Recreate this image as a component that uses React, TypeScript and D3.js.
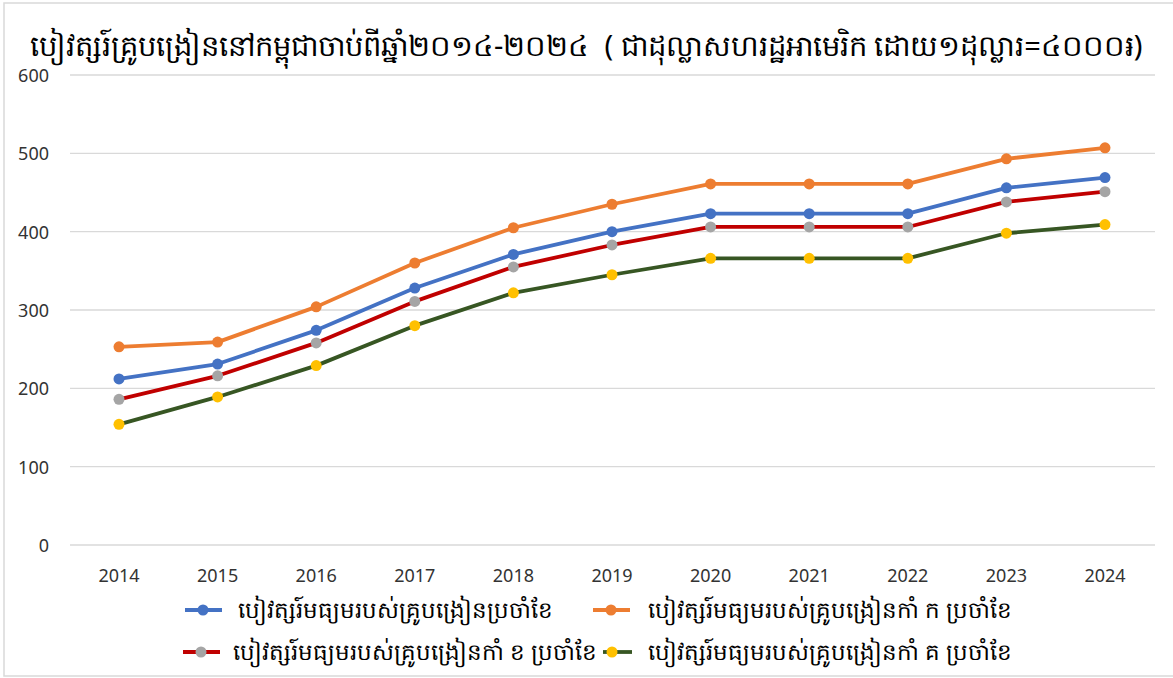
import { useEffect, useRef } from "react";
import * as d3 from "d3";

const title = "បៀវត្សរ៍គ្រូបង្រៀននៅកម្ពុជាចាប់ពីឆ្នាំ២០១៤-២០២៤  ( ជាដុល្លាសហរដ្ឋអាមេរិក ដោយ១ដុល្លារ=៤០០០៛)";
const years = ["2014", "2015", "2016", "2017", "2018", "2019", "2020", "2021", "2022", "2023", "2024"];
const yTicks = [0, 100, 200, 300, 400, 500, 600];

const avgAll = [212, 231, 274, 328, 371, 400, 423, 423, 423, 456, 469];
const avgRankA = [253, 259, 304, 360, 405, 435, 461, 461, 461, 493, 507];
const avgRankB = [186, 216, 258, 311, 355, 383, 406, 406, 406, 438, 451];
const avgRankC = [154, 189, 229, 280, 322, 345, 366, 366, 366, 398, 409];

const seriesNames = [
  "បៀវត្សរ៍មធ្យមរបស់គ្រូបង្រៀនប្រចាំខែ",
  "បៀវត្សរ៍មធ្យមរបស់គ្រូបង្រៀនកាំ ក ប្រចាំខែ",
  "បៀវត្សរ៍មធ្យមរបស់គ្រូបង្រៀនកាំ ខ ប្រចាំខែ",
  "បៀវត្សរ៍មធ្យមរបស់គ្រូបង្រៀនកាំ គ ប្រចាំខែ",
];
const lineColors = ["#4472C4", "#ED7D31", "#C00000", "#375623"];
const markerColors = ["#4472C4", "#ED7D31", "#A5A5A5", "#FFC000"];

function App() {
  const svgRef = useRef(null);

  useEffect(() => {
    document.body.style.margin = "0";
    const W = 1173;
    const H = 678;
    const svg = d3.select(svgRef.current).attr("width", W).attr("height", H);
    svg.selectAll("*").remove();

    const font = "'Noto Sans', 'Open Sans', sans-serif";

    // frame
    svg.append("rect")
      .attr("x", 4).attr("y", 3).attr("width", W + 10).attr("height", H - 5)
      .attr("fill", "white").attr("stroke", "#d9d9d9").attr("stroke-width", 1.5);

    svg.append("text")
      .attr("x", 30).attr("y", 56)
      .attr("font-family", font)
      .attr("font-size", 29)
      .attr("fill", "#000")
      .style("white-space", "pre")
      .text(title);

    const x = d3.scalePoint().domain(years).range([119, 1105]);
    const y = d3.scaleLinear().domain([0, 600]).range([545, 75]);

    svg.append("g").selectAll("line")
      .data(yTicks)
      .join("line")
      .attr("x1", 70).attr("x2", 1155)
      .attr("y1", d => y(d)).attr("y2", d => y(d))
      .attr("stroke", "#d9d9d9").attr("stroke-width", 1.3);

    svg.append("g").selectAll("text")
      .data(yTicks)
      .join("text")
      .attr("x", 49).attr("y", d => y(d) + 7)
      .attr("text-anchor", "end")
      .attr("font-family", font).attr("font-size", 18).attr("fill", "#333")
      .text(d => d);

    svg.append("g").selectAll("text")
      .data(years)
      .join("text")
      .attr("x", d => x(d)).attr("y", 582)
      .attr("text-anchor", "middle")
      .attr("font-family", font).attr("font-size", 18).attr("fill", "#333")
      .text(d => d);

    const allSeries = [avgAll, avgRankA, avgRankB, avgRankC];
    const line = d3.line().x((d, i) => x(years[i])).y(d => y(d));

    const order = [3, 2, 0, 1];
    order.forEach(k => {
      const g = svg.append("g");
      g.append("path")
        .datum(allSeries[k])
        .attr("d", line)
        .attr("fill", "none")
        .attr("stroke", lineColors[k])
        .attr("stroke-width", 3.8)
        .attr("stroke-linejoin", "round");
      g.selectAll("circle")
        .data(allSeries[k])
        .join("circle")
        .attr("cx", (d, i) => x(years[i]))
        .attr("cy", d => y(d))
        .attr("r", 5.5)
        .attr("fill", markerColors[k]);
    });

    // legend: symbol line extent, dot position, text start
    const legendPos = [
      { x1: 185, x2: 222, dot: 203, y: 610, tx: 238 },
      { x1: 593, x2: 630, dot: 611, y: 610, tx: 648 },
      { x1: 183, x2: 220, dot: 201, y: 652, tx: 233 },
      { x1: 603, x2: 632, dot: 612, y: 652, tx: 648 },
    ];
    const legend = svg.append("g").selectAll("g")
      .data(seriesNames)
      .join("g")
      .attr("transform", (d, i) => `translate(0,${legendPos[i].y})`);
    legend.append("line")
      .attr("x1", (d, i) => legendPos[i].x1).attr("x2", (d, i) => legendPos[i].x2)
      .attr("y1", 0).attr("y2", 0)
      .attr("stroke", (d, i) => lineColors[i]).attr("stroke-width", 3.8);
    legend.append("circle")
      .attr("cx", (d, i) => legendPos[i].dot).attr("cy", 0).attr("r", 5.5)
      .attr("fill", (d, i) => markerColors[i]);
    legend.append("text")
      .attr("x", (d, i) => legendPos[i].tx)
      .attr("y", 8)
      .attr("font-family", font).attr("font-size", 23).attr("fill", "#000")
      .text(d => d);
  }, []);

  return <svg ref={svgRef} style={{ display: "block" }}></svg>;
}

export default App;
